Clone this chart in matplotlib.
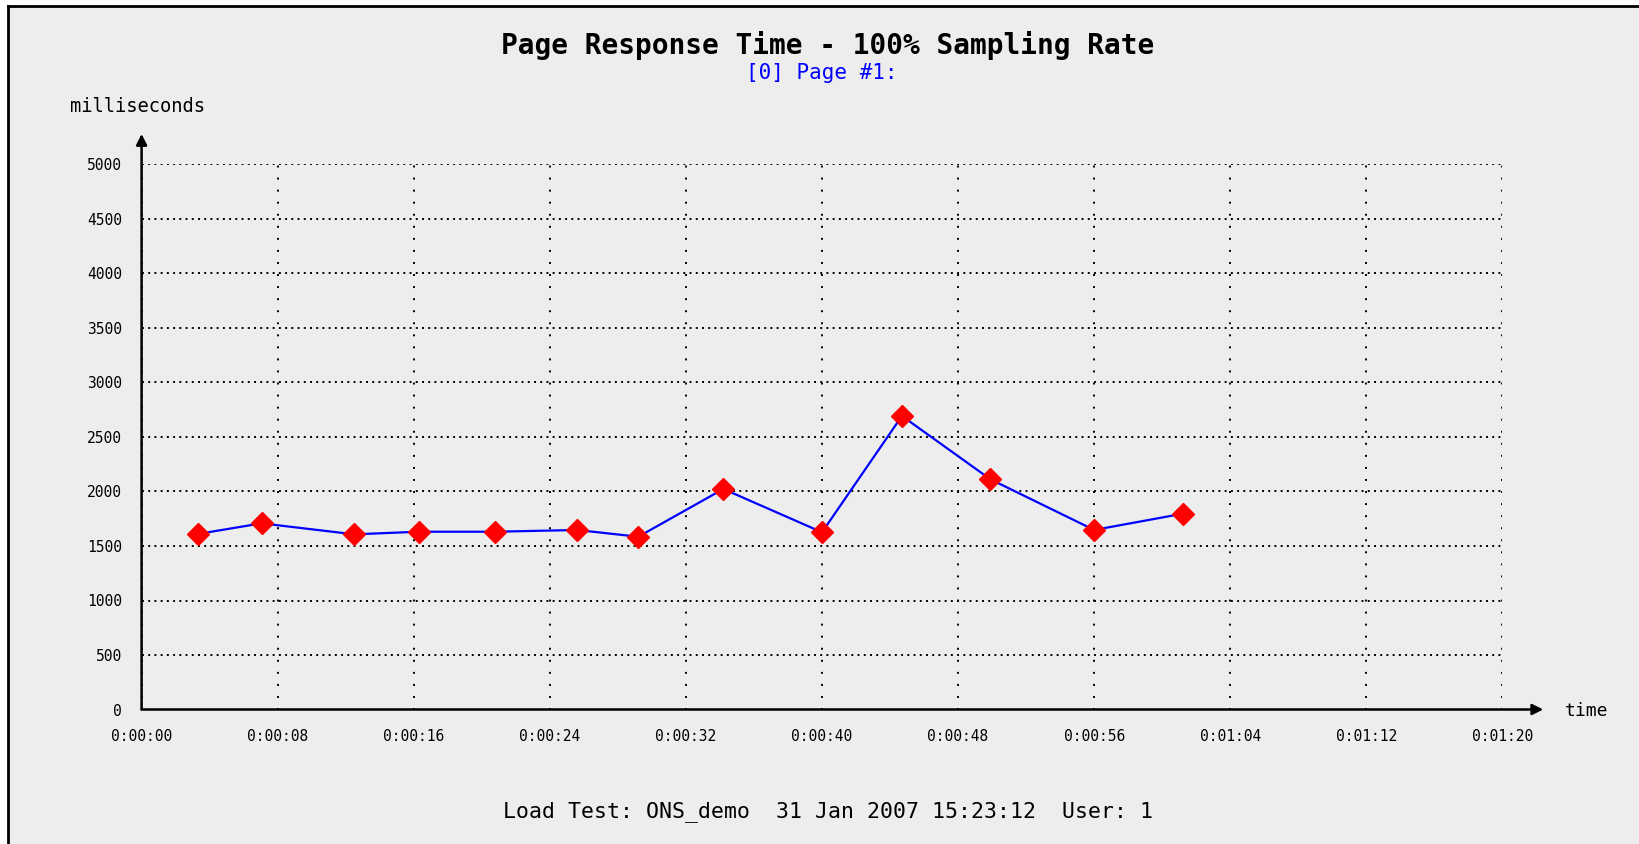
import matplotlib
matplotlib.use('Agg')
import matplotlib.pyplot as plt
from matplotlib.patches import Rectangle
from matplotlib.lines import Line2D
from matplotlib.ticker import FixedLocator

# sample times (seconds) and response times (ms)
times_s = [3.3, 7.05, 12.5, 16.3, 20.8, 25.6, 29.2, 34.2, 40.0, 44.7, 49.9, 56.0, 61.2]
resp_ms = [1610, 1708, 1607, 1631, 1631, 1647, 1585, 2023, 1626, 2693, 2112, 1647, 1796]

x_ticks = [0, 8, 16, 24, 32, 40, 48, 56, 64, 72, 80]
x_tick_labels = ["0:00:00", "0:00:08", "0:00:16", "0:00:24", "0:00:32", "0:00:40",
                 "0:00:48", "0:00:56", "0:01:04", "0:01:12", "0:01:20"]
y_ticks = [0, 500, 1000, 1500, 2000, 2500, 3000, 3500, 4000, 4500, 5000]

BG = "#EDEDED"
MONO = "DejaVu Sans Mono"
W, H = 1640, 844

fig = plt.figure(figsize=(16.4, 8.44), dpi=100)
fig.patch.set_facecolor("white")

# grey panel with black frame on left/top only
fig.patches.append(Rectangle((8 / W, 0), 1 - 8 / W, 1 - 6 / H, transform=fig.transFigure,
                             facecolor=BG, edgecolor="none", zorder=-10))
fig.lines.append(Line2D([8 / W, 8 / W], [0, 1 - 6 / H], transform=fig.transFigure,
                        color="black", lw=2))
fig.lines.append(Line2D([8 / W, 1], [1 - 6 / H, 1 - 6 / H], transform=fig.transFigure,
                        color="black", lw=2))

ax = fig.add_axes([141.6 / W, (H - 709.5) / H, 1360.8 / W, 545 / H])
ax.set_facecolor(BG)
ax.set_xlim(0, 80)
ax.set_ylim(0, 5000)
for s in ax.spines.values():
    s.set_visible(False)

ax.xaxis.set_major_locator(FixedLocator(x_ticks))
ax.yaxis.set_major_locator(FixedLocator(y_ticks))
ax.set_xticklabels(x_tick_labels, fontfamily=MONO, fontsize=10.5)
ax.set_yticklabels([str(v) for v in y_ticks], fontfamily=MONO, fontsize=10.5)
ax.tick_params(length=0, pad=0)
ax.tick_params(axis="x", pad=14)
ax.tick_params(axis="y", pad=14)
# horizontal dots are dense, vertical ones sparse
ax.grid(True, axis="y", color="black", linestyle=(0, (1, 2.2)), lw=1.4)
ax.grid(True, axis="x", color="black", linestyle=(0, (1, 5.2)), lw=1.4)

# axis lines with arrow heads
arrow = dict(arrowstyle="-|>", lw=1.8, color="black", mutation_scale=16,
             shrinkA=0, shrinkB=0)
ax.annotate("", xy=(1.03, 0), xytext=(0, 0), xycoords="axes fraction",
            textcoords="axes fraction", arrowprops=arrow, annotation_clip=False)
ax.annotate("", xy=(0, 1.056), xytext=(0, 0), xycoords="axes fraction",
            textcoords="axes fraction", arrowprops=arrow, annotation_clip=False)

ax.plot(times_s, resp_ms, color="blue", lw=1.6, zorder=3, clip_on=False)
ax.plot(times_s, resp_ms, linestyle="none", marker="D", markersize=10.7,
        color="red", markeredgecolor="red", zorder=4, clip_on=False)

fig.text(70 / W, 1 - 107 / H, "milliseconds", fontfamily=MONO, fontsize=13.5,
         ha="left", va="center")
fig.text(1565 / W, 1 - 711 / H, "time", fontfamily=MONO, fontsize=13,
         ha="left", va="center")

fig.text(828 / W, 1 - 45 / H, "Page Response Time - 100% Sampling Rate",
         fontfamily=MONO, fontweight="bold", fontsize=20, ha="center", va="center")
fig.text(822 / W, 1 - 73 / H, "[0] Page #1:", fontfamily=MONO, fontsize=15,
         color="blue", ha="center", va="center")
fig.text(828 / W, 1 - 812 / H, "Load Test: ONS_demo  31 Jan 2007 15:23:12  User: 1",
         fontfamily=MONO, fontsize=15.5, ha="center", va="center")

fig.savefig("out.png", dpi=100, facecolor=fig.get_facecolor())
